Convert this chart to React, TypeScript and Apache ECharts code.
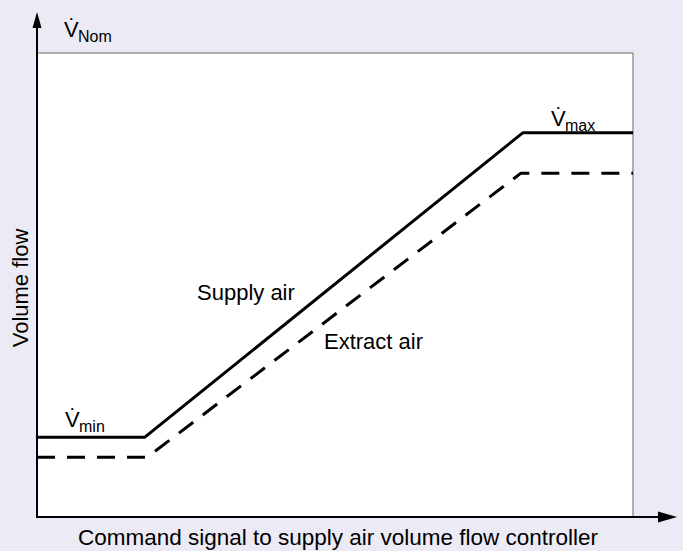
import React, { useEffect, useRef } from "react";
import * as echarts from "echarts";

// Command signal (0–100 %) vs volume flow (0–100 % of V̇Nom)
const supplyX = [0, 18.1, 81.5, 100];
const supplyY = [17.2, 17.2, 82.8, 82.8];
const extractX = [0, 18.5, 81.2, 100];
const extractY = [12.9, 12.9, 74.1, 74.1];

const xAxisTitle = "Command signal to supply air volume flow controller";
const yAxisTitle = "Volume flow";
const supplyLabel = "Supply air";
const extractLabel = "Extract air";

const FONT = "'Liberation Sans', Arial, Helvetica, sans-serif";

export default function App() {
  const ref = useRef<HTMLDivElement>(null);
  useEffect(() => {
    document.body.style.margin = "0";
    const chart = echarts.init(ref.current!, null, { renderer: "svg" });
    const pair = (xs: number[], ys: number[]) => xs.map((x, i) => [x, ys[i]]);
    const vText = (x: number, y: number, sub: string) => [
      {
        type: "text",
        x,
        y,
        style: { text: "V\u0307", font: `22px ${FONT}`, fill: "#000", align: "left", verticalAlign: "bottom" },
      },
      {
        type: "text",
        x: x + 14,
        y: y + 4,
        style: { text: sub, font: `16px ${FONT}`, fill: "#000", align: "left", verticalAlign: "bottom" },
      },
    ];
    chart.setOption({
      animation: false,
      backgroundColor: "#ECEBF5",
      grid: {
        left: 37,
        right: 50,
        top: 53,
        bottom: 34,
        show: true,
        backgroundColor: "#ffffff",
        borderColor: "#666666",
        borderWidth: 1,
      },
      xAxis: {
        type: "value",
        min: 0,
        max: 100,
        axisLine: { show: true, onZero: false, lineStyle: { color: "#000", width: 2 } },
        axisTick: { show: false },
        axisLabel: { show: false },
        splitLine: { show: false },
      },
      yAxis: {
        type: "value",
        min: 0,
        max: 100,
        axisLine: { show: true, onZero: false, lineStyle: { color: "#000", width: 2 } },
        axisTick: { show: false },
        axisLabel: { show: false },
        splitLine: { show: false },
      },
      series: [
        {
          name: supplyLabel,
          type: "line",
          data: pair(supplyX, supplyY),
          symbol: "none",
          lineStyle: { color: "#000", width: 3, type: "solid" },
        },
        {
          name: extractLabel,
          type: "line",
          data: pair(extractX, extractY),
          symbol: "none",
          lineStyle: { color: "#000", width: 3, type: [18, 12] },
        },
      ],
      graphic: [
        { type: "line", shape: { x1: 37, y1: 54, x2: 37, y2: 24 }, style: { stroke: "#000", lineWidth: 2 } },
        { type: "polygon", shape: { points: [[37, 12], [32.5, 28], [41.5, 28]] }, style: { fill: "#000" } },
        { type: "line", shape: { x1: 632, y1: 517, x2: 662, y2: 517 }, style: { stroke: "#000", lineWidth: 2 } },
        { type: "polygon", shape: { points: [[677, 517], [658, 511.5], [658, 522.5]] }, style: { fill: "#000" } },
        ...vText(64, 40, "Nom"),
        ...vText(551, 129, "max"),
        ...vText(65, 430, "min"),
        {
          type: "text",
          x: 197,
          y: 292,
          style: { text: supplyLabel, font: `22px ${FONT}`, fill: "#000", align: "left", verticalAlign: "middle" },
        },
        {
          type: "text",
          x: 324,
          y: 341,
          style: { text: extractLabel, font: `22px ${FONT}`, fill: "#000", align: "left", verticalAlign: "middle" },
        },
        {
          type: "text",
          x: 338,
          y: 537,
          style: { text: xAxisTitle, font: `22.5px ${FONT}`, fill: "#000", align: "center", verticalAlign: "middle" },
        },
        {
          type: "text",
          x: 20,
          y: 288,
          rotation: Math.PI / 2,
          style: { text: yAxisTitle, font: `22px ${FONT}`, fill: "#000", align: "center", verticalAlign: "middle" },
        },
      ],
    });
    return () => chart.dispose();
  }, []);
  return <div ref={ref} style={{ width: 683, height: 551 }} />;
}
